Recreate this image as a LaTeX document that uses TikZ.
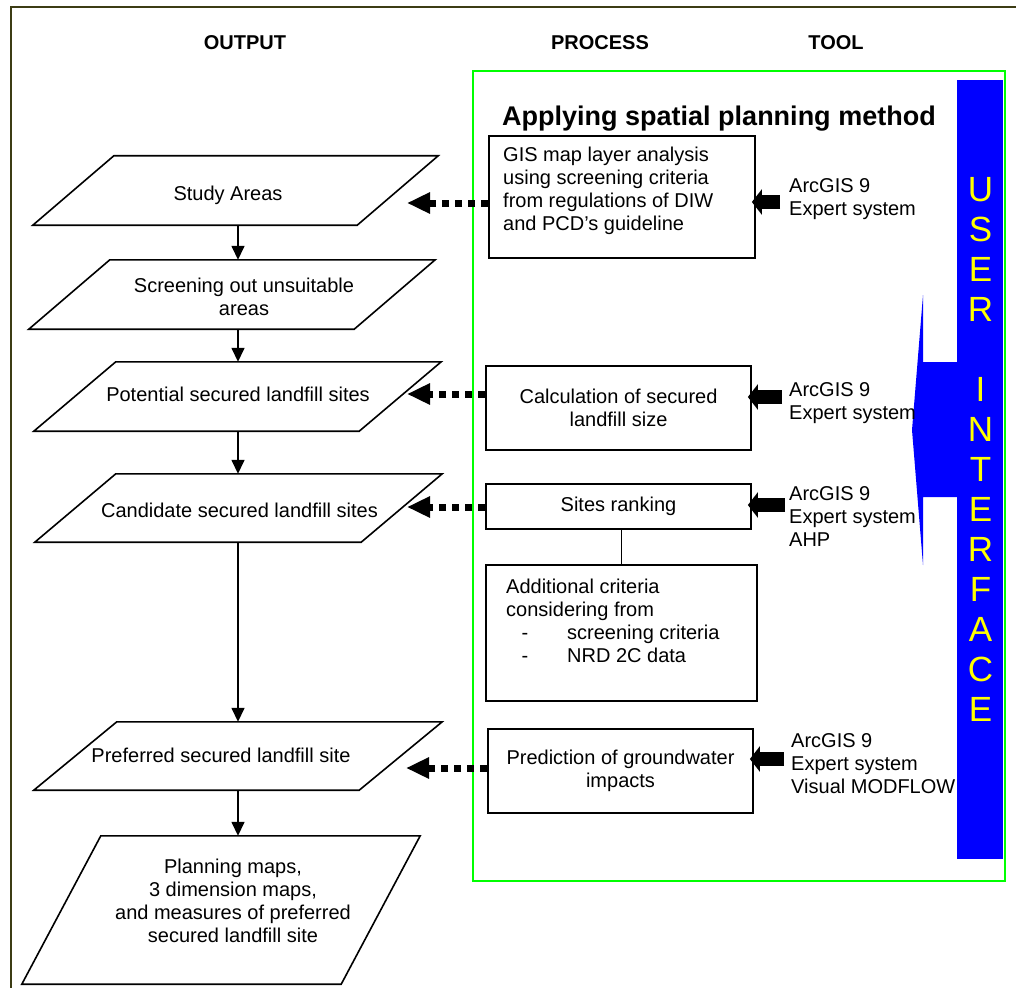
\documentclass[tikz,border=0pt]{standalone}
\usepackage{fontspec}
\setmainfont{Liberation Sans}
\usetikzlibrary{arrows.meta}
\definecolor{frameol}{RGB}{60,60,20}
\definecolor{gfr}{RGB}{0,255,0}
\definecolor{uiblue}{RGB}{0,0,255}
\definecolor{uiyel}{RGB}{255,255,0}
\begin{document}
\begin{tikzpicture}[x=1pt,y=-1pt,
  txt/.style={font=\fontsize{20}{22.7}\selectfont, inner sep=0pt},
  hdr/.style={font=\fontsize{20}{24}\selectfont\bfseries, inner sep=0pt, anchor=base},
  pnode/.style={draw=none, inner sep=0pt},
  pline/.style={line width=1.6pt, line join=miter},
  pbox/.style={draw, line width=1.7pt, inner sep=0pt, align=center,
    font=\fontsize{20}{22.7}\selectfont},
  varrow/.style={line width=1.5pt, -{Triangle[length=14pt,width=13pt]}},
  dotarr/.style={line width=7pt, dash pattern=on 7.5pt off 5.5pt,
    -{Triangle[length=23pt,width=20pt]}},
  blockarr/.style={line width=14pt, -{Triangle[length=10pt,width=25pt]}, shorten >=-4pt},
]
\useasboundingbox (0,0) rectangle (1016,987);
% outer frame
\draw[frameol, line width=1.5pt] (11,990) -- (11,7) -- (1020,7);

% headers
\node[hdr] (hOut) at (245,49.5) {OUTPUT};
\node[hdr] (hProc) at (600,49.5) {PROCESS};
\node[hdr] (hTool) at (836,49.5) {TOOL};

% green frame
\draw[gfr, line width=1.5pt] (473,71) rectangle (1005,881);

% user interface shape
\fill[uiblue] (957,80) rectangle (1003,859);
\fill[uiblue] (923,295) -- (912,430) -- (923,565) -- (923,497) -- (958,497) -- (958,362) -- (923,362) -- cycle;
\node[font=\fontsize{35}{40}\selectfont, text=uiyel, inner sep=0pt, align=center, anchor=base]
  (ui) at (980.5,721) {U\\S\\E\\R\\\mbox{}\\I\\N\\T\\E\\R\\F\\A\\C\\E};

% title
\node[font=\fontsize{27}{30}\selectfont\bfseries, inner sep=0pt, anchor=base west]
  (title) at (502,126) {Applying spatial planning method};

% parallelograms (output column)
\node[pnode, minimum width=405pt, minimum height=69pt] (p1) at (235.5,190.5) {};
\node[pnode, minimum width=406pt, minimum height=69pt] (p2) at (232,294.5) {};
\node[pnode, minimum width=407pt, minimum height=69pt] (p3) at (237.5,396.5) {};
\node[pnode, minimum width=407pt, minimum height=68pt] (p4) at (238.5,508) {};
\node[pnode, minimum width=408pt, minimum height=68pt] (p5) at (238,756) {};
\node[pnode, minimum width=398pt, minimum height=148pt] (p6) at (221,910) {};
\draw[pline] ([xshift=81pt]p1.north west) -- (p1.north east) -- ([xshift=-81pt]p1.south east) -- (p1.south west) -- cycle;
\draw[pline] ([xshift=81pt]p2.north west) -- (p2.north east) -- ([xshift=-81pt]p2.south east) -- (p2.south west) -- cycle;
\draw[pline] ([xshift=82pt]p3.north west) -- (p3.north east) -- ([xshift=-82pt]p3.south east) -- (p3.south west) -- cycle;
\draw[pline] ([xshift=81pt]p4.north west) -- (p4.north east) -- ([xshift=-81pt]p4.south east) -- (p4.south west) -- cycle;
\draw[pline] ([xshift=83pt]p5.north west) -- (p5.north east) -- ([xshift=-83pt]p5.south east) -- (p5.south west) -- cycle;
\draw[pline] ([xshift=79pt]p6.north west) -- (p6.north east) -- ([xshift=-79pt]p6.south east) -- (p6.south west) -- cycle;

\node[txt, anchor=base] (t1) at (228,200) {Study Areas};
\node[txt, anchor=base, align=center] (t2) at (244,315) {Screening out unsuitable\\areas};
\node[txt, anchor=base] (t3) at (238,401) {Potential secured landfill sites};
\node[txt, anchor=base] (t4) at (239.5,517) {Candidate secured landfill sites};
\node[txt, anchor=base] (t5) at (221,762) {Preferred secured landfill site};
\node[txt, anchor=base, align=center] (t6) at (233,942) {Planning maps,\\3 dimension maps,\\and measures of preferred\\secured landfill site};

% vertical arrows
\coordinate (ax) at (238,0);
\draw[varrow] (p1.south -| ax) -- (p2.north -| ax);
\draw[varrow] (p2.south -| ax) -- (p3.north -| ax);
\draw[varrow] (p3.south -| ax) -- (p4.north -| ax);
\draw[varrow] (p4.south -| ax) -- (p5.north -| ax);
\draw[varrow] (p5.south -| ax) -- (p6.north -| ax);

% process boxes
\node[pbox, minimum width=266pt, minimum height=122pt] (b1) at (622,197) {};
\node[txt, anchor=base west, align=left] (b1t) at (503,230)
  {GIS map layer analysis\\using screening criteria\\from regulations of DIW\\and PCD’s guideline};
\node[pbox, minimum width=265pt, minimum height=84pt] (b2) at (618.5,408) {Calculation of secured\\landfill size};
\node[pbox, minimum width=265pt, minimum height=45pt] (b3) at (618.5,506.5) {Sites ranking};
\node[pbox, minimum width=271pt, minimum height=136pt] (b4) at (621.5,633) {};
\node[txt, anchor=base west, align=left] (b4t) at (506,662)
  {Additional criteria\\considering from\\\makebox[61pt][l]{\hspace{15.5pt}-}screening criteria\\\makebox[61pt][l]{\hspace{15.5pt}-}NRD 2C data};
\node[pbox, minimum width=265pt, minimum height=84pt] (b5) at (620.5,771) {Prediction of groundwater\\impacts};
\draw[line width=1.5pt] (b4.north |- b3.south) -- (b4.north);

% dotted arrows process -> output
\coordinate (d1) at (407,203);
\coordinate (d2) at (407,394);
\coordinate (d3) at (407,507);
\coordinate (d4) at (406,768);
\draw[dotarr] (b1.west |- d1) -- (d1);
\draw[dotarr] (b2.west |- d2) -- (d2);
\draw[dotarr] (b3.west |- d3) -- (d3);
\draw[dotarr] (b5.west |- d4) -- (d4);

% tool texts
\node[txt, anchor=base west, align=left] (k1t) at (789,215) {ArcGIS 9\\Expert system};
\node[txt, anchor=base west, align=left] (k2t) at (789,419) {ArcGIS 9\\Expert system};
\node[txt, anchor=base west, align=left] (k3t) at (789,546) {ArcGIS 9\\Expert system\\AHP};
\node[txt, anchor=base west, align=left] (k4t) at (791,793) {ArcGIS 9\\Expert system\\Visual MODFLOW};

% block arrows tool -> process
\coordinate (k1) at (780,202);
\coordinate (k2) at (782,397);
\coordinate (k3) at (785,505);
\coordinate (k4) at (784,759);
\draw[blockarr] (k1) -- (b1.east |- k1);
\draw[blockarr] (k2) -- (b2.east |- k2);
\draw[blockarr] (k3) -- (b3.east |- k3);
\draw[blockarr] (k4) -- (b5.east |- k4);
\end{tikzpicture}
\end{document}
